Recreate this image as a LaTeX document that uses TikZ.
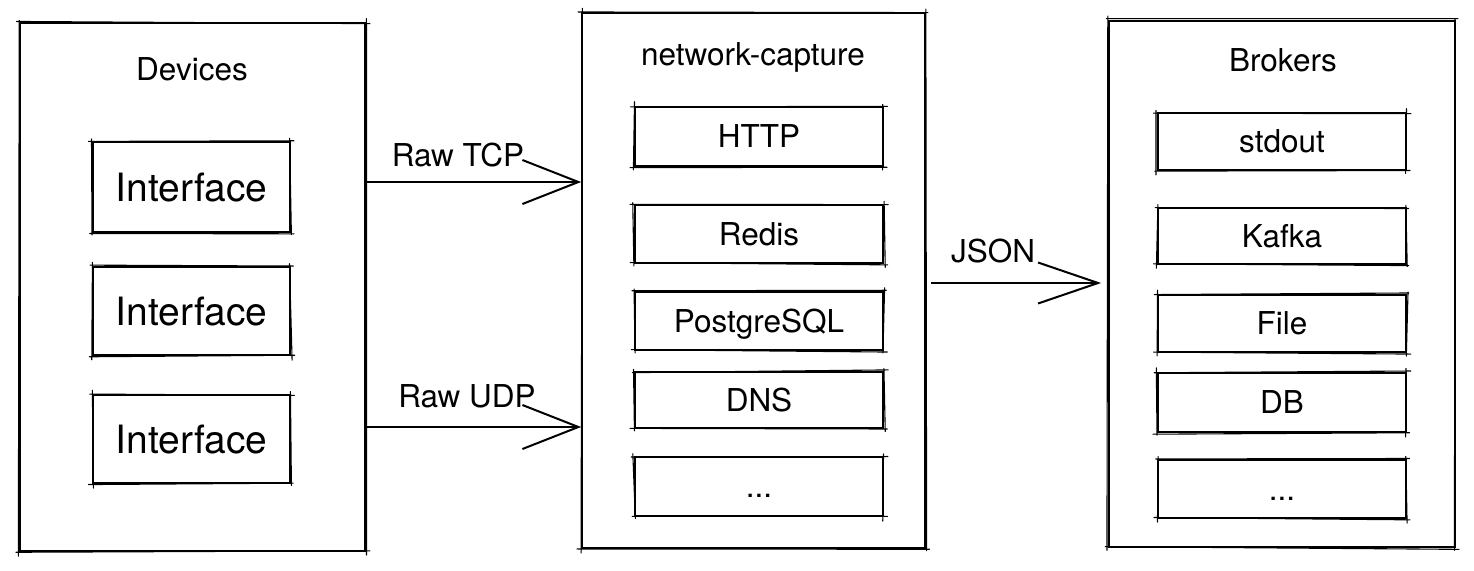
\documentclass[tikz,border=0pt]{standalone}
\usepackage{fontspec}
\setmainfont{TeX Gyre Heros}
\usetikzlibrary{arrows.meta,calc}
\newcommand\lblfont{\fontsize{31.5}{37}\selectfont}
\newcommand\iffont{\fontsize{39}{46}\selectfont}
\newcommand\roughen[1]{%
  \draw[rough] ($(#1.north west)+({-3+1.5*rand},{1.5*rand})$) -- ($(#1.north east)+({3+1.5*rand},{1.5*rand})$);
  \draw[rough] ($(#1.north east)+({1.5*rand},{-3+1.5*rand})$) -- ($(#1.south east)+({1.5*rand},{3+1.5*rand})$);
  \draw[rough] ($(#1.south east)+({3+1.5*rand},{1.5*rand})$) -- ($(#1.south west)+({-3+1.5*rand},{1.5*rand})$);
  \draw[rough] ($(#1.south west)+({1.5*rand},{3+1.5*rand})$) -- ($(#1.north west)+({1.5*rand},{-3+1.5*rand})$);
}
\tikzset{
  bigbox/.style={draw, line width=1.7pt, inner sep=0pt},
  itembox/.style={draw, line width=1.7pt, inner sep=0pt, minimum width=248pt,
    text height=22pt, text depth=0pt, font=\lblfont},
  ifbox/.style={draw, line width=1.7pt, inner sep=0pt, minimum width=197pt,
    text height=28pt, text depth=0pt, font=\iffont},
  title/.style={anchor=base, inner sep=0pt, font=\lblfont},
  rough/.style={line width=1.1pt, line cap=round},
  arr/.style={line width=2pt, -{Straight Barb[length=56pt,width=44pt,line width=2pt]}},
}
\begin{document}
\begin{tikzpicture}[x=1pt,y=-1pt]
\pgfmathsetseed{7}
\useasboundingbox (0,0) rectangle (1474,570);
\fill[white] (0,0) rectangle (1474,570);

% main containers
\node[bigbox, minimum width=345pt, minimum height=528pt] (dev) at (192.5,287) {};
\node[bigbox, minimum width=343pt, minimum height=535pt] (nc) at (753.5,280.5) {};
\node[bigbox, minimum width=346pt, minimum height=526pt] (br) at (1282,284) {};

% titles
\node[title] (tdev) at (192,80) {Devices};
\node[title] (tnc) at (753,65) {network-capture};
\node[title] (tbr) at (1283,71) {Brokers};

% interfaces
\node[ifbox, minimum height=90pt] (i1) at (191.5,187) {Interface};
\node[ifbox, minimum height=88pt] (i2) at (191.5,311) {Interface};
\node[ifbox, minimum height=88pt] (i3) at (191.5,439) {Interface};

% network-capture items
\node[itembox, minimum height=59pt] (http) at (759,136.5) {HTTP};
\node[itembox, minimum height=58pt] (redis) at (759,234) {Redis};
\node[itembox, minimum height=58pt] (pg) at (759,321) {PostgreSQL};
\node[itembox, minimum height=56pt] (dns) at (759,400) {DNS};
\node[itembox, minimum height=59pt] (ncmore) at (759,486.5) {...};

% broker items
\node[itembox, minimum height=57pt] (stdout) at (1282,141.5) {stdout};
\node[itembox, minimum height=56pt] (kafka) at (1282,236) {Kafka};
\node[itembox, minimum height=57pt] (file) at (1282,323.5) {File};
\node[itembox, minimum height=59pt] (db) at (1282,402.5) {DB};
\node[itembox, minimum height=58pt] (brmore) at (1282,489) {...};

% sketchy second strokes
\foreach \n in {dev,nc,br,i1,i2,i3,http,redis,pg,dns,ncmore,stdout,kafka,file,db,brmore}{\roughen{\n}}

% connectors
\draw[arr] ([yshift=105pt]dev.east) -- ([yshift=98.5pt]nc.west);
\draw[arr] ([yshift=-140pt]dev.east) -- ([yshift=-146.5pt]nc.west);
\draw[arr, shorten <=5pt, shorten >=7pt,
  -{Straight Barb[length=60pt,width=41pt,line width=2pt]}]
  ([yshift=-2.5pt]nc.east) -- ([yshift=1pt]br.west);

% connector labels
\node[title] (ltcp) at (458,166) {Raw TCP};
\node[title] (ludp) at (467,407) {Raw UDP};
\node[title] (ljson) at (993,262) {JSON};
\end{tikzpicture}
\end{document}
